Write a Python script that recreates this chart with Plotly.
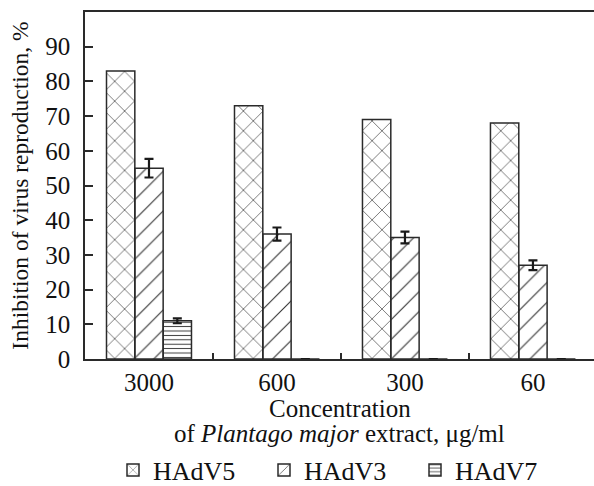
import plotly.graph_objects as go

categories = ["3000", "600", "300", "60"]
series_names = ["HAdV5", "HAdV3", "HAdV7"]
hadv5 = [83, 73, 69, 68]
hadv3 = [55, 36, 35, 27]
hadv3_err = [2.7, 1.9, 1.7, 1.4]
hadv7 = [11, 0, 0, 0]
hadv7_err = [0.7, 0, 0, 0]
y_ticks = [0, 10, 20, 30, 40, 50, 60, 70, 80, 90]
x_title_lines = ["Concentration", "of <i>Plantago major</i> extract, μg/ml"]
y_title = "Inhibition of virus reproduction, %"

FONT = "Liberation Serif"
INK = "#2a2a2a"
TXT = "#111111"

fig = go.Figure()

def add(name, vals, shape, size, sol, err=None):
    kw = {}
    if err is not None:
        kw["error_y"] = dict(type="data", array=err, visible=True,
                             color="#1a1a1a", thickness=2.2, width=4.5)
    fig.add_trace(go.Bar(
        x=categories, y=vals, name=name,
        marker=dict(color="white",
                    line=dict(color=INK, width=1.5),
                    pattern=dict(shape=shape, size=size, solidity=sol,
                                 fgcolor="#333333", fillmode="replace")),
        **kw))

add(series_names[0], hadv5, "x", 14, 0.09)
add(series_names[1], hadv3, "/", 14, 0.08, hadv3_err)
add(series_names[2], hadv7, "-", 4.4, 0.22, hadv7_err)

fig.update_layout(
    width=594, height=486,
    margin=dict(l=85, r=0, t=12, b=127),
    paper_bgcolor="white", plot_bgcolor="white",
    barmode="group", bargap=0.336, bargroupgap=0,
    font=dict(family=FONT, size=25, color=TXT),
    showlegend=True,
    legend=dict(orientation="h", xref="paper", x=0.5, xanchor="center",
                yref="container", y=1 - 470 / 486, yanchor="middle",
                font=dict(family=FONT, size=26, color=TXT),
                entrywidth=106, entrywidthmode="pixels", traceorder="normal",
                itemwidth=30),
)

for txt, py in zip(x_title_lines, [408, 433]):
    fig.add_annotation(text=txt, xref="paper", x=0.5, xanchor="center",
                       yref="paper", y=(359 - py) / 347, yanchor="middle",
                       showarrow=False,
                       font=dict(family=FONT, size=25, color=TXT))

fig.update_xaxes(
    type="category", range=[-0.5, 3.477],
    showline=True, linecolor=INK, linewidth=1.5, mirror=True,
    ticks="inside", tickson="boundaries", ticklen=6, tickwidth=2, tickcolor=INK,
    tickfont=dict(family=FONT, size=25, color=TXT),
    ticklabelstandoff=0,
    showgrid=False, zeroline=False,
)

fig.update_yaxes(
    range=[0, 100], tickvals=y_ticks,
    showline=True, linecolor=INK, linewidth=1.5,
    ticks="inside", ticklen=8, tickwidth=2, tickcolor=INK,
    tickfont=dict(family=FONT, size=25, color=TXT),
    ticklabelstandoff=8,
    showgrid=False, zeroline=False,
    title=dict(text=y_title, font=dict(family=FONT, size=23.5, color=TXT), standoff=10),
)

fig.write_html("out.html")
